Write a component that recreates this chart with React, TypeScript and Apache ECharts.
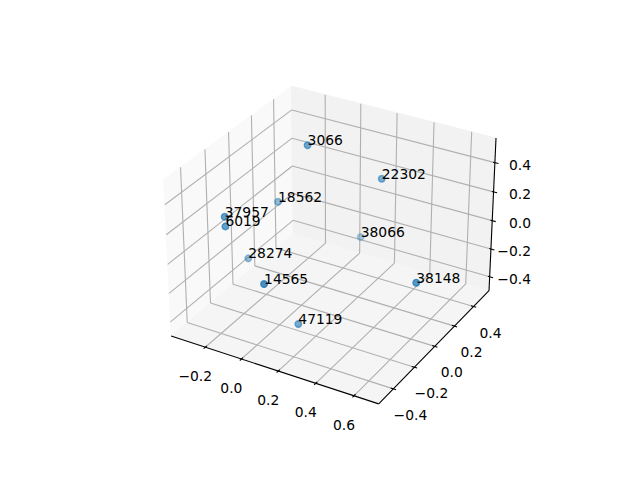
import React, { useEffect, useRef } from "react";
import * as echarts from "echarts";

// Values
const pointLabels = ["3066", "22302", "18562", "37957", "6019", "38066", "28274", "14565", "38148", "47119"];
const pointX = [-0.0405, 0.2475, -0.2115, -0.2325, -0.2185, 0.0425, -0.2985, 0.0915, 0.6485, 0.1045];
const pointY = [0.1348, 0.3365, 0.1389, -0.2919, -0.3092, 0.5007, -0.001, -0.4713, -0.0512, -0.2002];
const pointZ = [0.5151, 0.2645, 0.0665, 0.2249, 0.1754, -0.3237, -0.2772, 0.008, -0.0534, -0.4534];
const xTicks = [-0.2, 0, 0.2, 0.4, 0.6];
const yTicks = [-0.4, -0.2, 0, 0.2, 0.4];
const zTicks = [-0.4, -0.2, 0, 0.2, 0.4];
const xLim = [-0.3925, 0.7275];
const yLim = [-0.5352, 0.5666];
const zLim = [-0.501, 0.5656];

const BOX = [1.1905, 1.1905, 0.8929];
const U = [0.8660254, 0.5, 0];
const V = [-0.25, 0.4330127, 0.8660254];
const W = [0.4330127, -0.75, 0.5];
const DIST = 10;
const SCALE = 1997.8;
const CX = 333;
const CY = 237.4;

type P3 = [number, number, number];

const view = (p: P3) => {
  const q = [
    ((p[0] - xLim[0]) / (xLim[1] - xLim[0]) - 0.5) * BOX[0],
    ((p[1] - yLim[0]) / (yLim[1] - yLim[0]) - 0.5) * BOX[1],
    ((p[2] - zLim[0]) / (zLim[1] - zLim[0]) - 0.5) * BOX[2],
  ];
  const dot = (a: number[]) => a[0] * q[0] + a[1] * q[1] + a[2] * q[2];
  return [dot(U), dot(V), dot(W)];
};
const project = (p: P3): [number, number] => {
  const [a, b, c] = view(p);
  return [CX + (SCALE * a) / (DIST - c), CY - (SCALE * b) / (DIST - c)];
};

const [x0, x1] = xLim;
const [y0, y1] = yLim;
const [z0, z1] = zLim;

const panes: { pts: P3[]; fill: string }[] = [
  { pts: [[x0, y0, z0], [x0, y1, z0], [x0, y1, z1], [x0, y0, z1]], fill: "#f9f9f9" },
  { pts: [[x0, y1, z0], [x1, y1, z0], [x1, y1, z1], [x0, y1, z1]], fill: "#f2f2f2" },
  { pts: [[x0, y0, z0], [x1, y0, z0], [x1, y1, z0], [x0, y1, z0]], fill: "#f5f5f5" },
];

const segs: { a: P3; b: P3; color: string; w: number }[] = [];
const GRID = "#b0b0b0";
const addGrid = (pts: P3[]) => {
  for (let i = 0; i + 1 < pts.length; i++) segs.push({ a: pts[i], b: pts[i + 1], color: GRID, w: 1.1 });
};
xTicks.forEach((t) => addGrid([[t, y0, z0], [t, y1, z0], [t, y1, z1]]));
yTicks.forEach((t) => addGrid([[x0, t, z1], [x0, t, z0], [x1, t, z0]]));
zTicks.forEach((t) => addGrid([[x1, y1, t], [x0, y1, t], [x0, y0, t]]));
const INK = "#000000";
segs.push({ a: [x0, y0, z0], b: [x1, y0, z0], color: INK, w: 1.1 });
segs.push({ a: [x1, y0, z0], b: [x1, y1, z0], color: INK, w: 1.1 });
segs.push({ a: [x1, y1, z0], b: [x1, y1, z1], color: INK, w: 1.1 });
const dx = (x1 - x0) / 12;
const dy = (y1 - y0) / 12;
xTicks.forEach((t) => segs.push({ a: [t, y0 - 0.15 * dy, z0], b: [t, y0 + 0.15 * dy, z0], color: INK, w: 1.1 }));
yTicks.forEach((t) => segs.push({ a: [x1 + 0.15 * dx, t, z0], b: [x1 - 0.15 * dx, t, z0], color: INK, w: 1.1 }));
zTicks.forEach((t) => segs.push({ a: [x1 + 0.2 * dx, y1, t], b: [x1 - 0.1 * dx, y1, t], color: INK, w: 1.1 }));

const fmt = (v: number) => (v < 0 ? "\u2212" : "") + Math.abs(v).toFixed(1);
const texts: { x: number; y: number; text: string; align: string }[] = [];
xTicks.forEach((t) => {
  const [a, b] = project([t, y0, z0]);
  texts.push({ x: a - 10, y: b + 29, text: fmt(t), align: "center" });
});
yTicks.forEach((t) => {
  const [a, b] = project([x1, t, z0]);
  texts.push({ x: a + 17, y: b + 26, text: fmt(t), align: "center" });
});
zTicks.forEach((t) => {
  const [, b] = project([x1, y1, t]);
  texts.push({ x: 531, y: b + 2, text: fmt(t), align: "right" });
});

const FONT = "13.89px 'DejaVu Sans'";

const depths = pointX.map((_, i) => view([pointX[i], pointY[i], pointZ[i]])[2]);
const dMin = Math.min(...depths);
const dMax = Math.max(...depths);
const points = pointLabels.map((name, i) => {
  const alpha = 0.4 + (0.6 * (depths[i] - dMin)) / (dMax - dMin);
  return {
    name,
    value: project([pointX[i], pointY[i], pointZ[i]]),
    itemStyle: {
      color: `rgba(31,119,180,${alpha.toFixed(3)})`,
      borderColor: `rgba(31,119,180,${alpha.toFixed(3)})`,
      borderWidth: 1.4,
    },
  };
});
points.forEach((p) => {
  texts.push({ x: p.value[0], y: p.value[1] - 5, text: p.name, align: "left" });
});

export default function App() {
  const ref = useRef<HTMLDivElement>(null);
  useEffect(() => {
    const chart = echarts.init(ref.current!, undefined, { renderer: "svg" });
    chart.setOption({
      animation: false,
      backgroundColor: "#ffffff",
      grid: { left: 0, right: 0, top: 0, bottom: 0 },
      xAxis: { type: "value", min: 0, max: 640, show: false },
      yAxis: { type: "value", min: 0, max: 480, inverse: true, show: false },
      series: [
        {
          type: "custom",
          silent: true,
          clip: false,
          z: 1,
          data: panes.map((_, i) => [i, 0]),
          encode: { x: 0, y: 1 },
          renderItem: (params: any, api: any) => {
            const pane = panes[params.dataIndex];
            return {
              type: "polygon",
              shape: { points: pane.pts.map((p) => api.coord(project(p))) },
              style: { fill: pane.fill, stroke: pane.fill, lineWidth: 1 },
            };
          },
        },
        {
          type: "custom",
          silent: true,
          clip: false,
          z: 2,
          data: segs.map((_, i) => [i, 0]),
          encode: { x: 0, y: 1 },
          renderItem: (params: any, api: any) => {
            const s = segs[params.dataIndex];
            const a = api.coord(project(s.a));
            const b = api.coord(project(s.b));
            return {
              type: "line",
              shape: { x1: a[0], y1: a[1], x2: b[0], y2: b[1] },
              style: { stroke: s.color, lineWidth: s.w, fill: "none" },
            };
          },
        },
        {
          type: "scatter",
          silent: true,
          clip: false,
          z: 3,
          symbol: "circle",
          symbolSize: 6.6,
          data: points,
        },
        {
          type: "custom",
          silent: true,
          clip: false,
          z: 4,
          data: texts.map((_, i) => [i, 0]),
          encode: { x: 0, y: 1 },
          renderItem: (params: any, api: any) => {
            const t = texts[params.dataIndex];
            const c = api.coord([t.x, t.y]);
            return {
              type: "text",
              x: c[0],
              y: c[1],
              style: { text: t.text, font: FONT, fill: "#000", align: t.align, verticalAlign: "middle" },
            };
          },
        },
      ],
    });
    return () => chart.dispose();
  }, []);
  return <div ref={ref} style={{ position: "fixed", left: 0, top: 0, width: 640, height: 480 }} />;
}
